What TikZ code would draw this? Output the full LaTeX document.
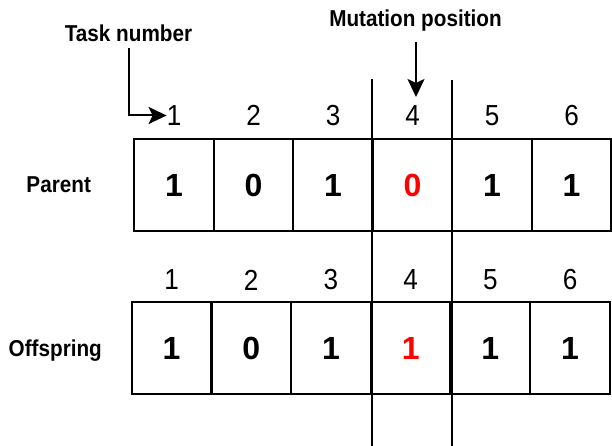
\documentclass[tikz,border=0pt]{standalone}
\usepackage{fontspec}
\setmainfont{Liberation Sans}
\newfontfamily\captionfont[FakeStretch=0.9]{Liberation Sans}
\usetikzlibrary{arrows.meta}
\begin{document}
\begin{tikzpicture}[x=1pt,y=-1pt,
  cell/.style={draw, line width=2.2pt, minimum width=79.5pt, minimum height=92pt,
    inner sep=0pt, font=\fontsize{32}{32}\selectfont\bfseries},
  ocell/.style={cell, minimum width=79.7pt},
  idx/.style={inner sep=0pt, font=\captionfont\fontsize{29}{29}\selectfont},
  lbl/.style={inner sep=0pt, anchor=base, font=\captionfont\fontsize{23}{23}\selectfont\bfseries},
  arr/.style={line width=2pt, -{Stealth[length=18pt,width=17pt,inset=4pt]}},
  cut/.style={line width=2pt}]
\useasboundingbox (0,0) rectangle (612,446);

% parent chromosome
\node[cell] (pa1) at (174.05,185.3) {1};
\node[cell] (pa2) at (253.55,185.3) {0};
\node[cell] (pa3) at (333.05,185.3) {1};
\node[cell] (pa4) at (412.55,185.3) {\textcolor{red}{0}};
\node[cell] (pa5) at (492.05,185.3) {1};
\node[cell] (pa6) at (571.55,185.3) {1};

% offspring chromosome
\node[ocell] (of1) at (171.55,348) {1};
\node[ocell] (of2) at (251.25,348) {0};
\node[ocell] (of3) at (330.95,348) {1};
\node[ocell] (of4) at (410.65,348) {\textcolor{red}{1}};
\node[ocell] (of5) at (490.35,348) {1};
\node[ocell] (of6) at (570.05,348) {1};

% task indices
\node[idx] (p1) at (174.05,115.5) {1};
\node[idx] (p2) at (253.55,115.5) {2};
\node[idx] (p3) at (333.05,115.5) {3};
\node[idx] (p4) at (412.55,115.5) {4};
\node[idx] (p5) at (492.05,115.5) {5};
\node[idx] (p6) at (571.55,115.5) {6};

\node[idx] (o1) at (171.55,280) {1};
\node[idx] (o2) at (251.25,280) {2};
\node[idx] (o3) at (330.95,280) {3};
\node[idx] (o4) at (410.65,280) {4};
\node[idx] (o5) at (490.35,280) {5};
\node[idx] (o6) at (570.05,280) {6};

% row labels and captions
\node[lbl] (parent) at (58.7,193) {Parent};
\node[lbl] (offspring) at (55.3,356.7) {Offspring};
\node[lbl] (task) at (128.5,42) {Task number};
\node[lbl] (mtxt) at (415.5,26.7) {Mutation position};

% mutation window
\draw[cut] (372.3,78.7) -- (372.3,446);
\draw[cut] (452.3,80) -- (452.3,446);

% pointers
\draw[arr] ([yshift=-6pt]task.south) |- (p1.west);
\coordinate (mtip) at (416,97);
\draw[arr, shorten <=10.5pt] (mtxt.south -| mtip) -- (mtip);
\end{tikzpicture}
\end{document}
